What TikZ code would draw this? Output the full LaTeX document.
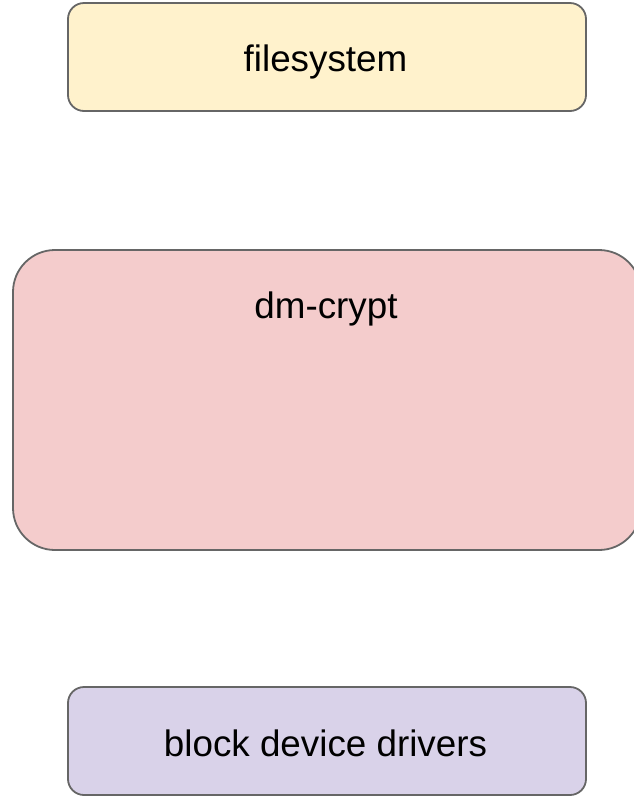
\documentclass[tikz,border=0pt]{standalone}
\usepackage{fontspec}
\setmainfont{Liberation Sans}
\definecolor{fsfill}{HTML}{FFF2CC}
\definecolor{dmfill}{HTML}{F4CCCC}
\definecolor{blkfill}{HTML}{D9D2E9}
\definecolor{edge}{HTML}{666666}
\begin{document}
\begin{tikzpicture}[x=1pt,y=-1pt,
  layer/.style={draw=edge, line width=1.8pt, inner sep=0pt},
  lbl/.style={font=\fontsize{36.8}{42}\selectfont, text=black, inner sep=0pt, anchor=base}]
  \useasboundingbox (0,0) rectangle (633,796);
  % stack of layers, top to bottom
  \node[layer, fill=fsfill, rounded corners=16pt, minimum width=518pt, minimum height=108pt] (fs) at (327,57) {};
  \node[lbl] (fslabel) at (325.5,71) {filesystem};
  \node[layer, fill=dmfill, rounded corners=42pt, minimum width=628pt, minimum height=300pt] (dm) at (327,400) {};
  \node[lbl] (dmlabel) at (326,318.5) {dm-crypt};
  \node[layer, fill=blkfill, rounded corners=16pt, minimum width=518pt, minimum height=108pt] (blk) at (327,741) {};
  \node[lbl] (blklabel) at (325.5,756) {block device drivers};
\end{tikzpicture}
\end{document}
